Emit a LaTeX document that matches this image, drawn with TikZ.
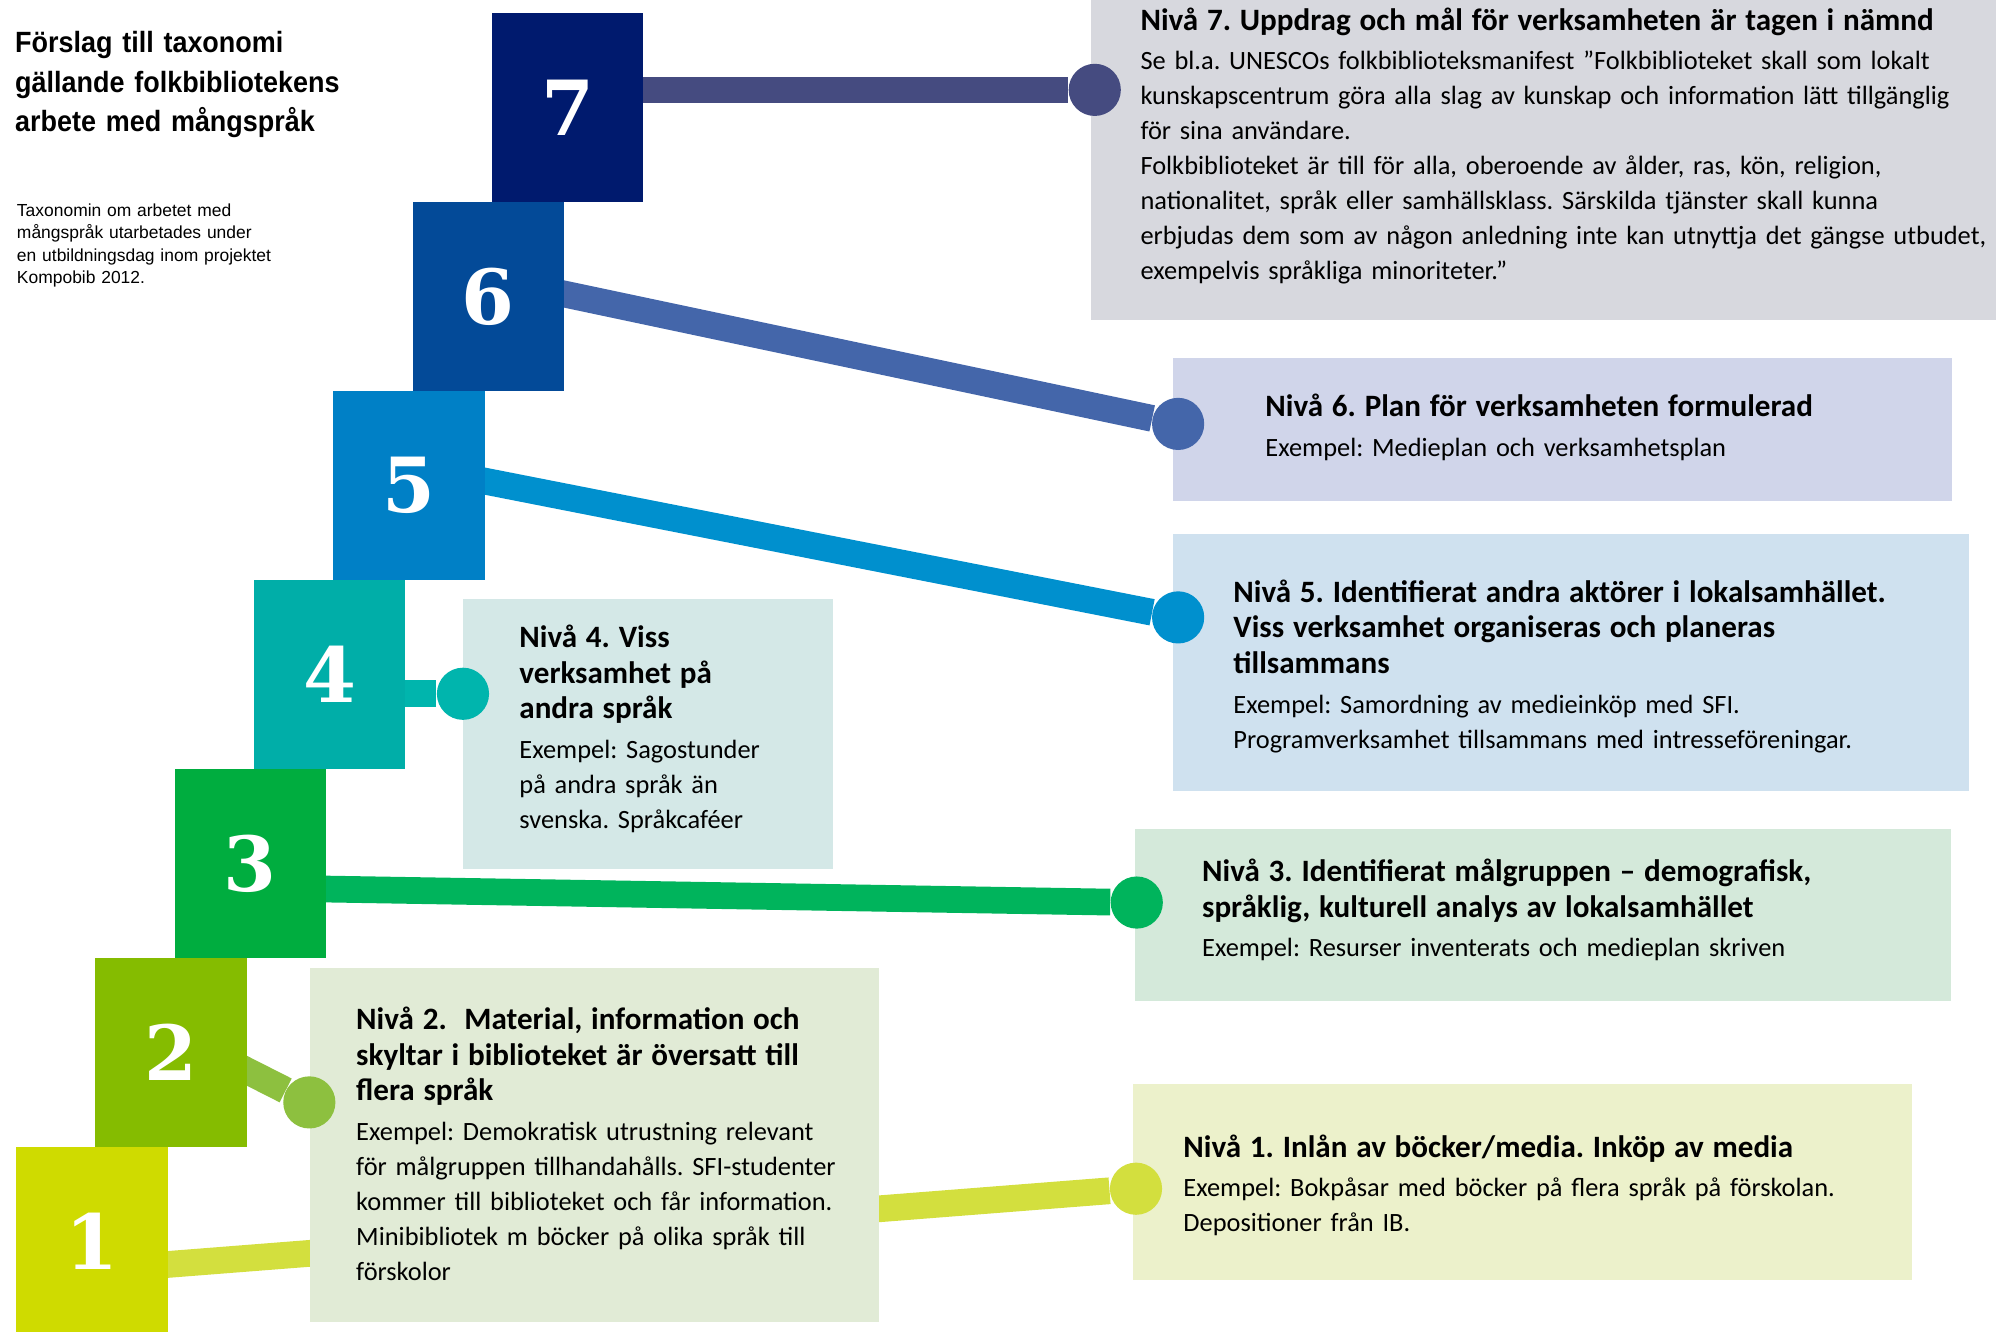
\documentclass[tikz,border=0pt]{standalone}
\usepackage{fontspec}
\usepackage{tikz}
\setmainfont{Carlito}
\newfontfamily\rubrikfont[FakeStretch=0.92]{Liberation Sans}
\newfontfamily\notfont{Liberation Sans}
\newfontfamily\sifferfont{DejaVu Serif}
\usetikzlibrary{positioning}
\pgfdeclarelayer{bakgrund}
\pgfsetlayers{bakgrund,main}
\frenchspacing
\hyphenpenalty=10000

\definecolor{sq7}{HTML}{001A6E}
\definecolor{sq6}{HTML}{034A98}
\definecolor{sq5}{HTML}{0080C6}
\definecolor{sq4}{HTML}{00AEA8}
\definecolor{sq3}{HTML}{00AD3F}
\definecolor{sq2}{HTML}{85BC00}
\definecolor{sq1}{HTML}{CFDB00}
\definecolor{ln7}{HTML}{454B80}
\definecolor{ln6}{HTML}{4466AA}
\definecolor{ln5}{HTML}{0090CE}
\definecolor{ln4}{HTML}{00B5AD}
\definecolor{ln3}{HTML}{00B45C}
\definecolor{ln2}{HTML}{8DC03F}
\definecolor{ln1}{HTML}{D3DF3E}
\definecolor{bx7}{HTML}{D7D8DE}
\definecolor{bx6}{HTML}{D0D5EA}
\definecolor{bx5}{HTML}{CFE1EF}
\definecolor{bx4}{HTML}{D4E8E7}
\definecolor{bx3}{HTML}{D4E9DA}
\definecolor{bx2}{HTML}{E1EBD6}
\definecolor{bx1}{HTML}{ECF1CB}

\newcommand{\niva}[1]{{\bfseries\fontsize{13.9}{15.9}\selectfont #1\par}\vspace{2.1pt}}

\tikzset{
  trappsteg/.style={rectangle, inner sep=0pt, minimum width=2.38cm, minimum height=2.97cm,
    text=white, font=\sifferfont\bfseries\fontsize{34}{34}\selectfont},
  ruta/.style={rectangle, inner sep=0pt, anchor=north west},
  prick/.style={circle, inner sep=0pt, minimum size=0.82cm},
  lank/.style={line width=0.42cm, shorten <=-0.3cm},
  tekst/.style={anchor=base west, inner sep=0pt, text width=#1, align=left,
    font=\fontsize{11.8}{15.65}\selectfont},
  tekst/.default=14cm
}

\begin{document}
\begin{tikzpicture}[x=0.02cm, y=-0.02cm]
\useasboundingbox (0,0) rectangle (1568,1046);

\node[anchor=base west, inner sep=0pt, text width=6cm, align=left,
  font=\rubrikfont\bfseries\fontsize{13.1}{17.6}\selectfont] (titel) at (11.6,41.4)
  {Förslag till taxonomi\\gällande folkbibliotekens\\arbete med mångspråk};
\node[anchor=base west, inner sep=0pt, text width=6cm, align=left,
  font=\notfont\fontsize{7.8}{9.95}\selectfont] (notis) at (13,170.2)
  {Taxonomin om arbetet med\\mångspråk utarbetades under\\en utbildningsdag inom projektet\\Kompobib 2012.};

\node[trappsteg, fill=sq7] (s7) at (445.9,84.6) {7};
\node[trappsteg, fill=sq6] (s6) at (383.6,233) {6};
\node[trappsteg, fill=sq5] (s5) at (321.3,381.5) {5};
\node[trappsteg, fill=sq4] (s4) at (259,529.9) {4};
\node[trappsteg, fill=sq3] (s3) at (196.7,678.4) {3};
\node[trappsteg, fill=sq2] (s2) at (134.4,826.8) {2};
\node[trappsteg, fill=sq1] (s1) at (72.1,975.3) {1};

\node[ruta, fill=bx7, minimum width=14.22cm, minimum height=5.02cm] (b7) at (857,0) {};
\node[ruta, fill=bx6, minimum width=12.24cm, minimum height=2.25cm] (b6) at (921,281) {};
\node[ruta, fill=bx5, minimum width=12.51cm, minimum height=4.03cm] (b5) at (921,419.5) {};
\node[ruta, fill=bx4, minimum width=5.81cm, minimum height=4.24cm] (b4) at (363.3,470.5) {};
\node[ruta, fill=bx3, minimum width=12.82cm, minimum height=2.69cm] (b3) at (891.6,651.2) {};
\node[ruta, fill=bx2, minimum width=8.94cm, minimum height=5.57cm] (b2) at (243,760) {};
\node[ruta, fill=bx1, minimum width=12.24cm, minimum height=3.08cm] (b1) at (890,851) {};

\node[prick, fill=ln7] (d7) at (860,70.6) {};
\node[prick, fill=ln6] (d6) at (925.5,333) {};
\node[prick, fill=ln5] (d5) at (925.5,485) {};
\node[prick, fill=ln4] (d4) at (363.7,545) {};
\node[prick, fill=ln3] (d3) at (893,709) {};
\node[prick, fill=ln2] (d2) at (243,866) {};
\node[prick, fill=ln1] (d1) at (892.4,933.8) {};

\node[tekst] (t7) at (895.6,23.6) {\niva{Nivå 7. Uppdrag och mål för verksamheten är tagen i nämnd}
  Se bl.a. UNESCOs folkbiblioteksmanifest ”Folkbiblioteket skall som lokalt\\
  kunskapscentrum göra alla slag av kunskap och information lätt tillgänglig\\
  för sina användare.\\
  Folkbiblioteket är till för alla, oberoende av ålder, ras, kön, religion,\\
  nationalitet, språk eller samhällsklass. Särskilda tjänster skall kunna\\
  erbjudas dem som av någon anledning inte kan utnyttja det gängse utbudet,\\
  exempelvis språkliga minoriteter.”};
\node[tekst] (t6) at (993.7,327.3) {\niva{Nivå 6. Plan för verksamheten formulerad}
  Exempel: Medieplan och verksamhetsplan};
\node[tekst] (t5) at (968.6,473.1) {\niva{Nivå 5. Identifierat andra aktörer i lokalsamhället.\\
  Viss verksamhet organiseras och planeras\\tillsammans}
  Exempel: Samordning av medieinköp med SFI.\\
  Programverksamhet tillsammans med intresseföreningar.};
\node[tekst=6cm] (t4) at (407.7,508.8) {\niva{Nivå 4. Viss\\verksamhet på\\andra språk}
  Exempel: Sagostunder\\på andra språk än\\svenska. Språkcaféer};
\node[tekst] (t3) at (944,692.6) {\niva{Nivå 3. Identifierat målgruppen – demografisk,\\
  språklig, kulturell analys av lokalsamhället}
  Exempel: Resurser inventerats och medieplan skriven};
\node[tekst=9cm] (t2) at (279.5,809) {\niva{Nivå 2.\ \ Material, information och\\
  skyltar i biblioteket är översatt till\\flera språk}
  Exempel: Demokratisk utrustning relevant\\
  för målgruppen tillhandahålls. SFI-studenter\\
  kommer till biblioteket och får information.\\
  Minibibliotek m böcker på olika språk till\\
  förskolor};
\node[tekst] (t1) at (929.3,909.1) {\niva{Nivå 1. Inlån av böcker/media. Inköp av media}
  Exempel: Bokpåsar med böcker på flera språk på förskolan.\\
  Depositioner från IB.};

\begin{pgfonlayer}{bakgrund}
\draw[lank, ln7] (s7.east |- d7) -- (d7);
\draw[lank, ln6] ([yshift=0.04cm]s6.east) -- (d6);
\draw[lank, ln5] ([yshift=0.07cm]s5.east) -- (d5);
\draw[lank, ln4] (s4.east |- d4) -- (d4);
\draw[lank, ln3] ([yshift=-0.4cm]s3.east) -- (d3);
\draw[lank, ln2] ([yshift=-0.29cm]s2.east) -- (d2);
\draw[lank, ln1] ([yshift=-0.36cm]s1.east) -- (d1);
\end{pgfonlayer}
\end{tikzpicture}
\end{document}
